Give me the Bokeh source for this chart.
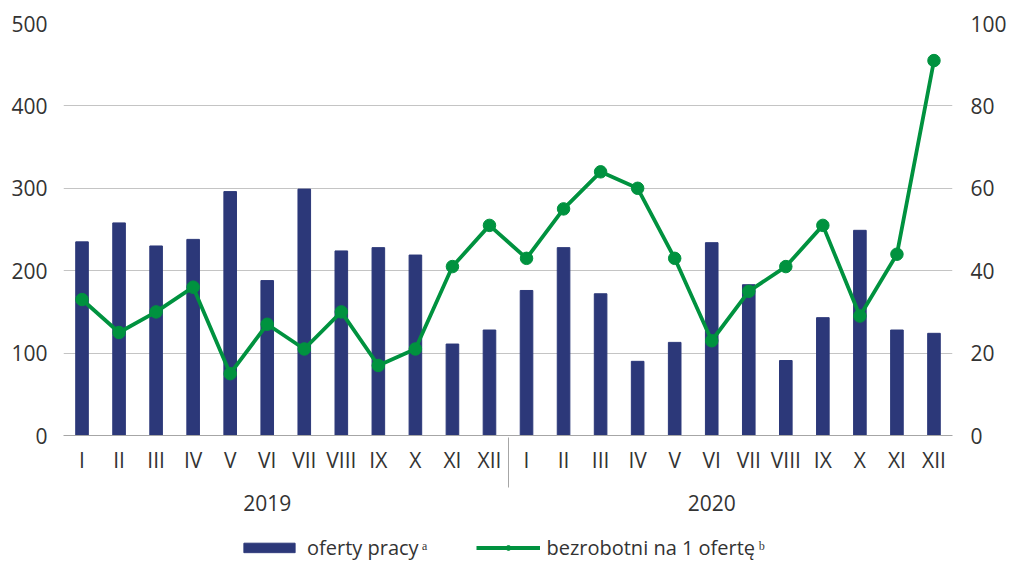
from bokeh.plotting import figure
from bokeh.models import (FactorRange, Range1d, LinearAxis, CategoricalAxis, FixedTicker,
                          Legend, LegendItem)
from bokeh.layouts import column
from bokeh.embed import file_html
from bokeh.resources import INLINE

years = ["2019", "2020"]
months = ["I", "II", "III", "IV", "V", "VI", "VII", "VIII", "IX", "X", "XI", "XII"]
job_offers_2019 = [235, 258, 230, 238, 296, 188, 299, 224, 228, 219, 111, 128]
job_offers_2020 = [176, 228, 172, 90, 113, 234, 183, 91, 143, 249, 128, 124]
unemployed_per_offer_2019 = [33, 25, 30, 36, 15, 27, 21, 30, 17, 21, 41, 51]
unemployed_per_offer_2020 = [43, 55, 64, 60, 43, 23, 35, 41, 51, 29, 44, 91]
left_ticks = [0, 100, 200, 300, 400, 500]
right_ticks = [0, 20, 40, 60, 80, 100]
year_label_month = "VI"
label_bars = "oferty pracy\u2009\u1d43"
label_line = "bezrobotni na 1 ofertę\u2009\u1d47"

ZW = "\u200b"  # zero-width space: keeps factors unique while looking identical
keys = [m + ZW * yi for yi, y in enumerate(years) for m in months]
year_factors = []
for yi, y in enumerate(years):
    for mi, m in enumerate(months):
        year_factors.append(y if m == year_label_month else ZW * (1 + yi * len(months) + mi))
offers = job_offers_2019 + job_offers_2020
ratio = unemployed_per_offer_2019 + unemployed_per_offer_2020

FONT = "Open Sans"
TXT = "#333333"
NAVY = "#2c3879"
GREEN = "#00923f"
GRID = "#c4c4c4"
AXIS = "#a6a6a6"
W = 1009
H_MAIN = 532
H_LEG = 30

p = figure(
    x_range=FactorRange(*keys, range_padding=0, factor_padding=0),
    y_range=Range1d(0, 500),
    width=W, height=H_MAIN,
    output_backend="svg", toolbar_location=None,
    min_border_left=63, min_border_right=54, min_border_top=23, min_border_bottom=97,
)
p.outline_line_color = None
p.background_fill_color = "white"
p.xgrid.grid_line_color = None
p.ygrid.grid_line_color = GRID
p.ygrid.grid_line_width = 1

p.extra_y_ranges = {"right": Range1d(0, 100)}
p.extra_x_ranges = {
    "sep": FactorRange("|"),  # single factor: its tick sits between the two years
    "yr": FactorRange(*year_factors, range_padding=0, factor_padding=0),
}

bars = p.vbar(x=keys, top=offers, width=0.34, fill_color=NAVY, line_color=NAVY)
line = p.line(x=keys, y=ratio, y_range_name="right", line_color=GREEN, line_width=3.8)
dots = p.scatter(x=keys, y=ratio, y_range_name="right", size=12.5, fill_color=GREEN, line_color=GREEN)

def style_axis(ax, size="21px"):
    ax.axis_line_color = None
    ax.major_tick_line_color = None
    ax.minor_tick_line_color = None
    ax.major_tick_out = 0
    ax.major_tick_in = 0
    ax.major_label_text_font = FONT
    ax.major_label_text_font_size = size
    ax.major_label_text_color = TXT

# left axis
yax = p.yaxis[0]
yax.ticker = FixedTicker(ticks=left_ticks)
style_axis(yax)
yax.major_label_standoff = 16

# right axis
rax = LinearAxis(y_range_name="right", ticker=FixedTicker(ticks=right_ticks))
style_axis(rax)
rax.major_label_standoff = 18
p.add_layout(rax, "right")

# month axis
xax = p.xaxis[0]
style_axis(xax)
xax.axis_line_color = AXIS
xax.axis_line_width = 1
xax.major_label_standoff = 10
xax.major_label_orientation = "horizontal"

# separator between the two years
sep_axis = CategoricalAxis(x_range_name="sep")
style_axis(sep_axis, size="1px")
sep_axis.major_label_text_alpha = 0
sep_axis.major_tick_line_color = AXIS
sep_axis.major_tick_line_width = 1
sep_axis.major_tick_in = 39
sep_axis.major_tick_out = 11
sep_axis.major_label_standoff = 0
sep_axis.major_label_orientation = "horizontal"
p.add_layout(sep_axis, "below")

# year axis (labels under the sixth month of each year)
year_axis = CategoricalAxis(x_range_name="yr")
style_axis(year_axis)
year_axis.major_label_orientation = "horizontal"
year_axis.major_label_standoff = 1
p.add_layout(year_axis, "below")

# legend in its own strip under the chart; proxies sit outside its visible range
lg = figure(width=W, height=H_LEG, output_backend="svg", toolbar_location=None,
            x_range=Range1d(10, 11), y_range=Range1d(1000, 1001),
            min_border=0, min_border_left=0, min_border_right=0,
            min_border_top=0, min_border_bottom=0)
lg.axis.visible = False
lg.grid.visible = False
lg.outline_line_color = None
lb = lg.vbar(x=[0], top=[offers[0]], width=0.34, fill_color=NAVY, line_color=NAVY)
ll = lg.line(x=[0, 1], y=ratio[:2], line_color=GREEN, line_width=3.8)
ld = lg.scatter(x=[0], y=ratio[:1], size=12.5, fill_color=GREEN, line_color=GREEN)

legend = Legend(
    items=[LegendItem(label=label_bars, renderers=[lb]),
           LegendItem(label=label_line, renderers=[ll, ld])],
    orientation="horizontal",
    location="left",
    glyph_width=64, glyph_height=12,
    label_standoff=6, spacing=49,
    padding=0, margin=174,
    border_line_color=None, background_fill_alpha=0,
    label_text_font=FONT, label_text_font_size="20px", label_text_color=TXT,
)
lg.add_layout(legend)

layout = column(p, lg, spacing=0)
open("out.html", "w").write(file_html(layout, INLINE))
